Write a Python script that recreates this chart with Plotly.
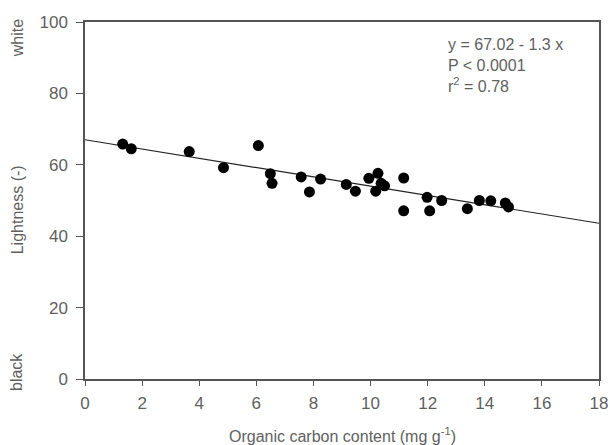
import plotly.graph_objects as go

# organic carbon content (mg g-1) and lightness (-)
carbon = [1.32, 1.62, 3.65, 4.85, 6.07, 6.49, 6.55, 7.57, 7.86, 8.25,
          9.15, 9.47, 9.94, 10.26, 10.37, 10.49, 10.18, 11.16, 11.16, 11.98,
          12.07, 12.49, 13.39, 13.81, 14.21, 14.72, 14.83]
lightness = [65.8, 64.5, 63.7, 59.2, 65.4, 57.5, 54.8, 56.6, 52.4, 56.0,
             54.5, 52.6, 56.2, 57.6, 54.8, 54.1, 52.6, 56.3, 47.1, 50.9,
             47.1, 50.0, 47.7, 50.0, 49.9, 49.3, 48.2]

# regression from the chart annotation
intercept = 67.02
slope = -1.3
fit_x = [0, 18]
fit_y = [intercept + slope * v for v in fit_x]

grey = "#5f5f5f"
font = dict(family="Liberation Sans, Arial, sans-serif", size=17, color=grey)

fig = go.Figure()
fig.add_trace(go.Scatter(x=fit_x, y=fit_y, mode="lines",
                         line=dict(color="#222222", width=1.2), showlegend=False))
fig.add_trace(go.Scatter(x=carbon, y=lightness, mode="markers",
                         marker=dict(color="black", size=11), showlegend=False))

fig.update_layout(
    width=610, height=445,
    margin=dict(l=85, r=11, t=22, b=66),
    paper_bgcolor="white", plot_bgcolor="white",
    font=font,
    xaxis=dict(range=[0, 18], tickvals=list(range(0, 19, 2)), showgrid=False,
               zeroline=False, showline=True, linecolor="#555555", linewidth=1.5,
               mirror=True, ticks="outside", ticklen=5, tickcolor="#555555",
               ticklabelstandoff=3, automargin=False, ticklabeloverflow="allow"),
    yaxis=dict(range=[0, 100], tickvals=[0, 20, 40, 60, 80, 100], showgrid=False,
               zeroline=False, showline=True, linecolor="#555555", linewidth=1.5,
               mirror=True, ticks="outside", ticklen=7, tickcolor="#555555",
               ticklabelstandoff=5, automargin=False, ticklabeloverflow="allow"),
    annotations=[
        dict(text="y = 67.02 - 1.3 x<br>P < 0.0001<br>r<sup>2</sup> = 0.78",
             xref="paper", yref="paper", x=0.703, y=0.965, xanchor="left",
             yanchor="top", align="left", showarrow=False,
             font=dict(size=16, color=grey)),
        dict(text="Organic carbon content (mg g<sup>-1</sup>)", xref="paper",
             yref="paper", x=0.5, y=-0.158, xanchor="center", yanchor="middle",
             showarrow=False, font=dict(size=16, color=grey)),
        dict(text="Lightness (-)", xref="paper", yref="paper", x=-0.132,
             y=0.473, xanchor="center", yanchor="middle", textangle=-90,
             showarrow=False, font=dict(size=16, color=grey)),
        dict(text="white", xref="paper", yref="paper", x=-0.132, y=0.955,
             xanchor="center", yanchor="middle", textangle=-90, showarrow=False,
             font=dict(size=16, color=grey)),
        dict(text="black", xref="paper", yref="paper", x=-0.132, y=0.02,
             xanchor="center", yanchor="middle", textangle=-90, showarrow=False,
             font=dict(size=16, color=grey)),
    ],
)

# drop the page's default body margin so the figure sits at the top-left corner
fig.write_html("out.html", config={"displayModeBar": False},
               post_script="document.body.style.margin = '0';")
